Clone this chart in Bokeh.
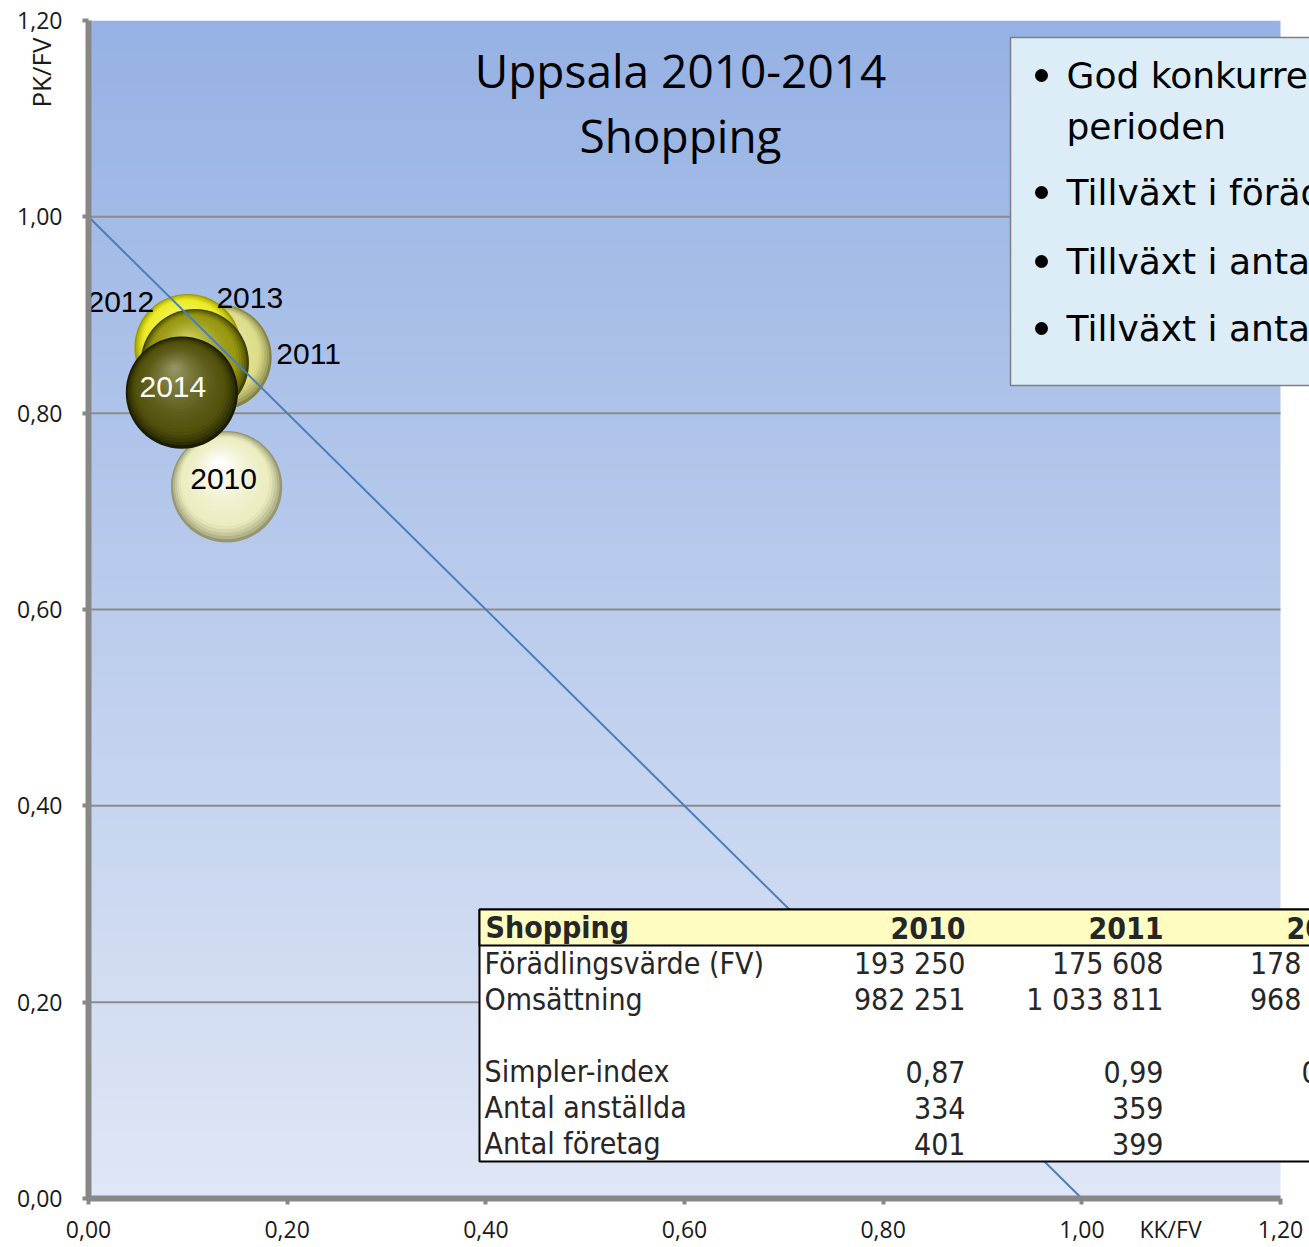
import numpy as np
from bokeh.plotting import figure
from bokeh.models import (Range1d, FixedTicker, CustomJSTickFormatter, ColumnDataSource,
                          LinearAxis)
from bokeh.core.properties import value
from bokeh.embed import file_html
from bokeh.resources import INLINE

# ---------------- data ----------------
years = ["2010", "2011", "2012", "2013", "2014"]
kk_fv = [0.139, 0.131, 0.100, 0.107, 0.094]          # x: KK/FV
pk_fv = [0.725, 0.857, 0.867, 0.851, 0.821]          # y: PK/FV
fv = [193250, 175608, 178409, 183100, 196400]        # bubble size: förädlingsvärde

table_years = ["2010", "2011", "2012"]
omsattning = [982251, 1033811, 968137]
simpler_index = [0.87, 0.99, 0.97]
antal_anstallda = [334, 359, 350]
antal_foretag = [401, 399, 398]

axis_ticks = [0.0, 0.2, 0.4, 0.6, 0.8, 1.0, 1.2]
ref_x = [0.0, 1.0]
ref_y = [1.0, 0.0]

x_title = "KK/FV"
y_title = "PK/FV"
title_lines = ["Uppsala 2010-2014", "Shopping"]
box_lines = ["God konkurrenskraft under", "perioden", "Tillväxt i förädlingsvärde",
             "Tillväxt i antal anställda", "Tillväxt i antal företag"]
box_bullet = [True, False, True, True, True]

# ---------------- layout helpers (page pixels -> data) ----------------
SX = (1280 - 88) / 1.2
SY = (1198 - 20) / 1.2
def px_x(px):
    return (px - 88) / SX
def px_y(py):
    return (1198 - py) / SY

W, H = 1309, 1247
XMAX = (W - 88) / SX
x_title_pos = px_x(1170)   # where the x-axis title sits along the axis
y_title_pos = px_y(72)     # where the y-axis title sits along the axis

p = figure(width=W, height=H, output_backend="svg", toolbar_location=None,
           x_range=Range1d(0, XMAX), y_range=Range1d(0, 1.2),
           min_border_left=88, min_border_right=0, min_border_top=20, min_border_bottom=49)
p.outline_line_color = None
p.background_fill_color = "white"
p.border_fill_color = "white"
p.grid.visible = False

for ax in (p.xaxis[0], p.yaxis[0]):
    ax.bounds = (0, 1.2)
    ax.axis_line_color = "#878787"
    ax.axis_line_width = 6
    ax.major_label_text_font = "Open Sans"
    ax.major_label_text_font_size = "23px"
    ax.major_label_text_color = "#1a1a1a"

# y axis: ordinary ticks
p.yaxis.ticker = FixedTicker(ticks=axis_ticks)
p.yaxis.formatter = CustomJSTickFormatter(code="return tick.toFixed(2).replace('.', ',');")
p.yaxis.major_tick_line_color = "#878787"
p.yaxis.major_tick_line_width = 4
p.yaxis.major_tick_in = 0
p.yaxis.major_tick_out = 6
p.yaxis.minor_tick_line_color = None
p.yaxis.major_label_standoff = 20

# x axis: the axis title is written in the tick-label row (as in the original),
# tick marks are drawn as minor ticks at the real tick values
p.xaxis.ticker = FixedTicker(ticks=axis_ticks + [x_title_pos], minor_ticks=axis_ticks)
p.xaxis.formatter = CustomJSTickFormatter(
    args=dict(pos=x_title_pos, title=x_title),
    code="if (Math.abs(tick - pos) < 1e-9) { return title; } return tick.toFixed(2).replace('.', ',');")
p.xaxis.major_tick_line_color = None
p.xaxis.major_tick_in = 0
p.xaxis.major_tick_out = 0
p.xaxis.minor_tick_line_color = "#878787"
p.xaxis.minor_tick_line_width = 4
p.xaxis.minor_tick_in = 0
p.xaxis.minor_tick_out = 6
p.xaxis.major_label_standoff = 8

# y axis title: a label-only axis pulled into the tick-label column, near the top
ytitle_axis = LinearAxis(
    ticker=FixedTicker(ticks=[y_title_pos]),
    formatter=CustomJSTickFormatter(args=dict(title=y_title), code="return title;"),
    axis_line_color=None, major_tick_line_color=None, minor_tick_line_color=None,
    major_tick_in=0, major_tick_out=0, minor_tick_in=0, minor_tick_out=0,
    major_label_orientation="vertical", major_label_standoff=-44,
    major_label_text_font="Open Sans", major_label_text_font_size="26px",
    major_label_text_color="#1a1a1a")
p.add_layout(ytitle_axis, "left")

# ---------------- background gradient ----------------
n = 400
t = np.linspace(0, 1, n)[:, None]
bottom_c = np.array([224, 231, 246], dtype=float)
top_c = np.array([150, 178, 228], dtype=float)
rgb = bottom_c + (top_c - bottom_c) * t
img = np.empty((n, 2), dtype=np.uint32)
view = img.view(dtype=np.uint8).reshape((n, 2, 4))
for c in range(3):
    view[:, :, c] = rgb[:, c:c + 1].astype(np.uint8)
view[:, :, 3] = 255
p.image_rgba(image=[img], x=0, y=0, dw=1.2, dh=1.2)

# gridlines
gy = [v for v in axis_ticks if 0 < v < 1.2]
p.segment(x0=[0] * len(gy), x1=[1.2] * len(gy), y0=gy, y1=gy, line_color="#8c8c8c", line_width=2)

# ---------------- bubbles ----------------
shades = {
    "2010": ("#969670", "#ececc0", "#ffffff"),
    "2011": ("#848446", "#dcdc8a", "#f7f7d2"),
    "2012": ("#9c9c00", "#ecec28", "#ffffa8"),
    "2013": ("#424200", "#979710", "#cfcf66"),
    "2014": ("#1c1c00", "#53530d", "#92925e"),
}
def hex2rgb(h):
    return np.array([int(h[i:i + 2], 16) for i in (1, 3, 5)], dtype=float)
def mix(a, b, f):
    c = hex2rgb(a) * (1 - f) + hex2rgb(b) * f
    return "#%02x%02x%02x" % tuple(int(round(v)) for v in c)

rmax = 0.0565
radii = [rmax * np.sqrt(v / max(fv)) for v in fv]
NL = 24
for yr, x, y, r in zip(years, kk_fv, pk_fv, radii):
    edge, mid, light = shades[yr]
    xs, ys, rs, cs = [], [], [], []
    for k in range(NL):
        tt = k / (NL - 1)
        rs.append(r * (1 - 0.93 * tt))
        xs.append(x - 0.13 * r * tt)
        ys.append(y + 0.42 * r * tt * SX / SY)
        if tt < 0.2:
            cs.append(mix(edge, mid, (tt / 0.2) ** 0.7))
        else:
            f = ((tt - 0.2) / 0.8) ** 1.4
            cs.append(mix(mid, light, f))
    p.circle(x=xs, y=ys, radius=rs, fill_color=cs, line_color=None)

# reference line PK/FV + KK/FV = 1
p.line(ref_x, ref_y, line_color="#4a7ebb", line_width=2)

# bubble labels
lab_src = ColumnDataSource(dict(
    x=kk_fv, y=pk_fv, text=years,
    dx=[-3, 90, -67, 55, -9], dy=[-8, -3, -45, -65, -6],
    color=["black", "black", "black", "black", "white"]))
p.text(x="x", y="y", text="text", x_offset="dx", y_offset="dy", text_color="color",
       source=lab_src, text_font=value("Liberation Sans"), text_font_size="30px",
       text_align="center", text_baseline="middle")

# ---------------- title ----------------
p.text(x=[px_x(680)] * 2, y=[px_y(69), px_y(134)], text=title_lines,
       text_font=value("Open Sans"), text_font_size="46px", text_color="black",
       text_align="center", text_baseline="middle")

# ---------------- text box ----------------
p.quad(left=px_x(1010), right=XMAX + 0.2, top=px_y(37), bottom=px_y(385),
       fill_color="#dcedf8", line_color="#7f7f7f", line_width=1.5)
line_y = [px_y(v) for v in (75, 126, 192, 261, 328)]
p.scatter(x=[px_x(1041)] * sum(box_bullet), y=[yy for yy, b in zip(line_y, box_bullet) if b],
          size=13, marker="circle", fill_color="black", line_color=None)
p.text(x=[px_x(1066)] * len(box_lines), y=line_y, text=box_lines,
       text_font=value("DejaVu Sans"), text_font_size="36px", text_color="black",
       text_align="left", text_baseline="middle")

# ---------------- data table ----------------
def fmt_int(v):
    return f"{v:,}".replace(",", " ")
def fmt_dec(v):
    return f"{v:.2f}".replace(".", ",")

rows = [("Förädlingsvärde (FV)", [fmt_int(v) for v in fv[:len(table_years)]]),
        ("Omsättning", [fmt_int(v) for v in omsattning]),
        ("", ["", "", ""]),
        ("Simpler-index", [fmt_dec(v) for v in simpler_index]),
        ("Antal anställda", [str(v) for v in antal_anstallda]),
        ("Antal företag", [str(v) for v in antal_foretag])]

tab_top = px_y(909)
rh = 36 / SY
tab_bottom = tab_top - rh * (len(rows) + 1)
tab_left = px_x(479)
col_right = [px_x(965 + 198 * i) for i in range(len(table_years))]

p.quad(left=tab_left, right=XMAX + 0.2, top=tab_top, bottom=tab_bottom,
       fill_color="white", line_color="black", line_width=2)
p.quad(left=tab_left, right=XMAX + 0.2, top=tab_top, bottom=tab_top - rh,
       fill_color="#fffcc2", line_color="black", line_width=2)

tfont = value("DejaVu Sans Condensed, Roboto")
tsize = "30px"
hy = tab_top - rh / 2
p.text(x=[px_x(485)], y=[hy], text=["Shopping"], text_font=tfont, text_font_size=tsize,
       text_font_style="bold", text_color="#262626", text_align="left", text_baseline="middle")
p.text(x=col_right, y=[hy] * len(table_years), text=table_years, text_font=tfont,
       text_font_size=tsize, text_font_style="bold", text_color="#262626",
       text_align="right", text_baseline="middle")

lx, ly, lt = [], [], []
vx, vy, vt = [], [], []
for i, (name, vals) in enumerate(rows):
    yy = tab_top - rh - (i + 0.5) * rh
    if name:
        lx.append(px_x(484)); ly.append(yy); lt.append(name)
    for cx, v in zip(col_right, vals):
        if v:
            vx.append(cx); vy.append(yy); vt.append(v)
p.text(x=lx, y=ly, text=lt, text_font=tfont, text_font_size=tsize, text_color="#262626",
       text_align="left", text_baseline="middle")
p.text(x=vx, y=vy, text=vt, text_font=tfont, text_font_size=tsize, text_color="#262626",
       text_align="right", text_baseline="middle")

open("out.html", "w").write(file_html(p, INLINE))
